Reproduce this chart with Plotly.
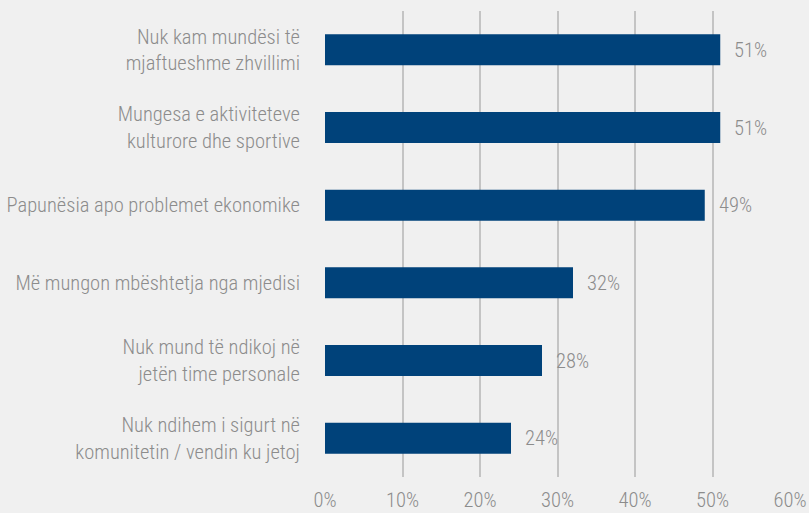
import plotly.graph_objects as go

categories = [
    "Nuk kam mundësi të<br>mjaftueshme zhvillimi",
    "Mungesa e aktiviteteve<br>kulturore dhe sportive",
    "Papunësia apo problemet ekonomike",
    "Më mungon mbështetja nga mjedisi",
    "Nuk mund të ndikoj në<br>jetën time personale",
    "Nuk ndihem i sigurt në<br>komunitetin / vendin ku jetoj",
]
values = [51, 51, 49, 32, 28, 24]
tick_vals = [0, 10, 20, 30, 40, 50, 60]
tick_text = ["0%", "10%", "20%", "30%", "40%", "50%", "60%"]

FONT = "Roboto Condensed, sans-serif"
GRAY = "#8c8c8c"
FS = 20.5
tfont = dict(family=FONT, size=FS, color=GRAY, weight=300)

fig = go.Figure(go.Bar(
    x=values, y=categories, orientation="h",
    marker=dict(color="#00427a", line=dict(width=0)),
    width=0.4, hoverinfo="skip",
))

for v, c in zip(values, categories):
    fig.add_annotation(x=v, y=c, text=f"{v}%", showarrow=False,
                       xanchor="left", xshift=12, font=tfont)

fig.update_layout(
    width=809, height=513,
    margin=dict(l=325, r=19, t=11, b=36),
    paper_bgcolor="#f0f0f0", plot_bgcolor="#f0f0f0",
    showlegend=False,
    font=tfont,
)
fig.update_xaxes(range=[0, 60], tickvals=tick_vals, ticktext=tick_text,
                 showgrid=True, gridcolor="#c4c4c4", gridwidth=2,
                 zeroline=False, showline=False, ticks="",
                 ticklabelstandoff=8, fixedrange=True, automargin=False,
                 tickfont=tfont)
fig.update_yaxes(autorange="reversed", showgrid=False, zeroline=False,
                 showline=False, ticks="", ticklabelstandoff=24,
                 fixedrange=True, automargin=False, tickfont=tfont)

fig.write_html(
    "out.html",
    config={"displayModeBar": False},
    post_script="document.body.style.margin='0';document.body.style.background='#f0f0f0';",
)
